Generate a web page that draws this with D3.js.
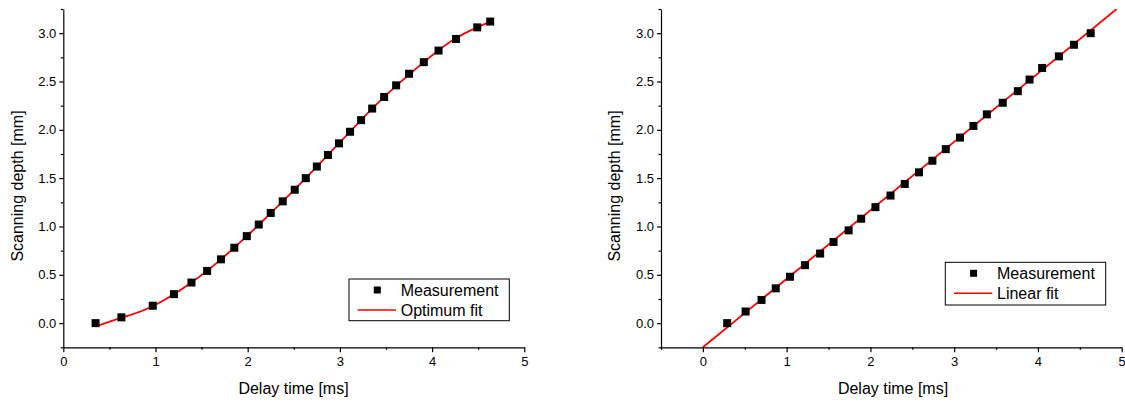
<!DOCTYPE html>
<html lang="en">
<head>
<meta charset="utf-8">
<title>Scanning depth vs delay time</title>
<script src="https://d3js.org/d3.v7.min.js"></script>
<style>
  body { margin: 0; background: white; }
  text { font-family: "Liberation Sans", Arial, sans-serif; fill: #000; }
</style>
</head>
<body>
<script>
// left panel: measurement + optimum fit
var leftX = [0.35, 0.63, 0.97, 1.20, 1.39, 1.56, 1.71, 1.855, 1.99, 2.12, 2.25, 2.38, 2.51, 2.63,
             2.75, 2.87, 2.99, 3.11, 3.23, 3.35, 3.48, 3.61, 3.75, 3.91, 4.07, 4.26, 4.49, 4.63];
var leftY = [0.00, 0.06, 0.18, 0.30, 0.42, 0.54, 0.66, 0.78, 0.90, 1.02, 1.14, 1.26, 1.38, 1.50,
             1.62, 1.74, 1.86, 1.98, 2.10, 2.22, 2.34, 2.46, 2.58, 2.70, 2.82, 2.94, 3.06, 3.12];
var optFitX = [0.35, 0.63, 0.97, 1.39, 1.71, 1.99, 2.38, 2.75, 3.11, 3.48, 3.91, 4.26, 4.63];
var optFitY = [-0.035, 0.055, 0.175, 0.42, 0.66, 0.90, 1.26, 1.62, 1.98, 2.34, 2.70, 2.95, 3.12];

// right panel: measurement + linear fit
var rightX = [0.29, 0.51, 0.70, 0.87, 1.04, 1.22, 1.40, 1.56, 1.74, 1.89, 2.06, 2.24, 2.41,
              2.58, 2.74, 2.90, 3.07, 3.23, 3.39, 3.58, 3.76, 3.90, 4.05, 4.25, 4.43, 4.63];
var rightY = [0.00, 0.12, 0.24, 0.36, 0.48, 0.60, 0.72, 0.84, 0.96, 1.08, 1.20, 1.32, 1.44,
              1.56, 1.68, 1.80, 1.92, 2.04, 2.16, 2.28, 2.40, 2.52, 2.64, 2.76, 2.88, 3.00];
var linFitX = [0, 4.94];
var linFitY = [-0.25, 3.25];

var yTicks = [0.0, 0.5, 1.0, 1.5, 2.0, 2.5, 3.0];
var yMinor = [-0.25, 0.25, 0.75, 1.25, 1.75, 2.25, 2.75, 3.25];
var xTicks = [0, 1, 2, 3, 4, 5];

var w = 1125, h = 403;
var svg = d3.select("body").append("svg").attr("width", w).attr("height", h);

function panel(opts) {
  var x = d3.scaleLinear().domain(opts.xdom).range(opts.xr);
  var y = d3.scaleLinear().domain([-0.25, 3.25]).range([347.3, 9]);
  var g = svg.append("g");

  // clip so the fit stays inside the axes box
  var clipId = "clip" + opts.id;
  svg.append("clipPath").attr("id", clipId).append("rect")
    .attr("x", opts.xr[0]).attr("y", 9)
    .attr("width", opts.xr[1] - opts.xr[0]).attr("height", 347.3 - 9);

  // minor ticks
  g.append("g").attr("transform", "translate(0,347.3)")
    .call(d3.axisBottom(x).tickValues(opts.xMinor).tickSize(2.5).tickFormat(""))
    .call(s => s.select(".domain").remove());
  g.append("g").attr("transform", "translate(" + opts.xr[0] + ",0)")
    .call(d3.axisLeft(y).tickValues(yMinor).tickSize(2.5).tickFormat(""))
    .call(s => s.select(".domain").remove());

  // major axes
  var xa = g.append("g").attr("transform", "translate(0,347.3)")
    .call(d3.axisBottom(x).tickValues(xTicks).tickSize(5).tickSizeOuter(0).tickPadding(4).tickFormat(d3.format("d")));
  var ya = g.append("g").attr("transform", "translate(" + opts.xr[0] + ",0)")
    .call(d3.axisLeft(y).tickValues(yTicks).tickSize(4).tickSizeOuter(0).tickPadding(3).tickFormat(d3.format(".1f")));
  g.selectAll(".tick text").style("font-size", "13px").style("font-family", "'Liberation Sans', Arial, sans-serif");
  g.selectAll(".domain, .tick line").attr("stroke", "#000").attr("stroke-width", 1.2);

  // fit line
  var fit = d3.range(opts.fx.length).map(i => [opts.fx[i], opts.fy[i]]);
  svg.append("path")
    .attr("clip-path", "url(#" + clipId + ")")
    .attr("d", d3.line().x(d => x(d[0])).y(d => y(d[1])).curve(d3.curveNatural)(fit))
    .attr("fill", "none").attr("stroke", "#ff0000").attr("stroke-width", 1.8);

  // measurement squares
  var pts = d3.range(opts.mx.length).map(i => [opts.mx[i], opts.my[i]]);
  svg.append("g").selectAll("rect").data(pts).join("rect")
    .attr("x", d => x(d[0]) - 4).attr("y", d => y(d[1]) - 4)
    .attr("width", 8).attr("height", 8).attr("fill", "#000");

  // axis titles
  svg.append("text").attr("x", opts.xTitle).attr("y", 394)
    .attr("text-anchor", "middle").style("font-size", "16px").text("Delay time [ms]");
  svg.append("text")
    .attr("transform", "translate(" + opts.yTitle + ",186) rotate(-90)")
    .attr("text-anchor", "middle").style("font-size", "16px").text("Scanning depth [mm]");

  // legend
  var L = opts.legend;
  svg.append("rect").attr("x", L.x).attr("y", L.y).attr("width", L.w).attr("height", L.h)
    .attr("fill", "white").attr("stroke", "#000").attr("stroke-width", 1);
  svg.append("rect").attr("x", L.x + 28.3 - 3.5).attr("y", L.y + 11 - 3.5)
    .attr("width", 7).attr("height", 7).attr("fill", "#000");
  svg.append("line").attr("x1", L.x + 8.7).attr("x2", L.x + 47).attr("y1", L.y + 31).attr("y2", L.y + 31)
    .attr("stroke", "#ff0000").attr("stroke-width", 1.5);
  svg.append("text").attr("x", L.x + 51.7).attr("y", L.y + 16.8).style("font-size", "16px").text("Measurement");
  svg.append("text").attr("x", L.x + 51.7).attr("y", L.y + 36.8).style("font-size", "16px").text(opts.fitName);
}

panel({
  id: "L", xdom: [0, 5], xr: [63.3, 524.3],
  xMinor: [0.5, 1.5, 2.5, 3.5, 4.5],
  mx: leftX, my: leftY, fx: optFitX, fy: optFitY,
  xTitle: 293.5, yTitle: 23,
  legend: { x: 349, y: 279, w: 160.3, h: 41.7 }, fitName: "Optimum fit"
});

panel({
  id: "R", xdom: [-0.5, 5], xr: [661, 1121.7],
  xMinor: [-0.5, 0.5, 1.5, 2.5, 3.5, 4.5],
  mx: rightX, my: rightY, fx: linFitX, fy: linFitY,
  xTitle: 893, yTitle: 620,
  legend: { x: 945.3, y: 262.3, w: 160.4, h: 42.7 }, fitName: "Linear fit"
});
</script>
</body>
</html>
